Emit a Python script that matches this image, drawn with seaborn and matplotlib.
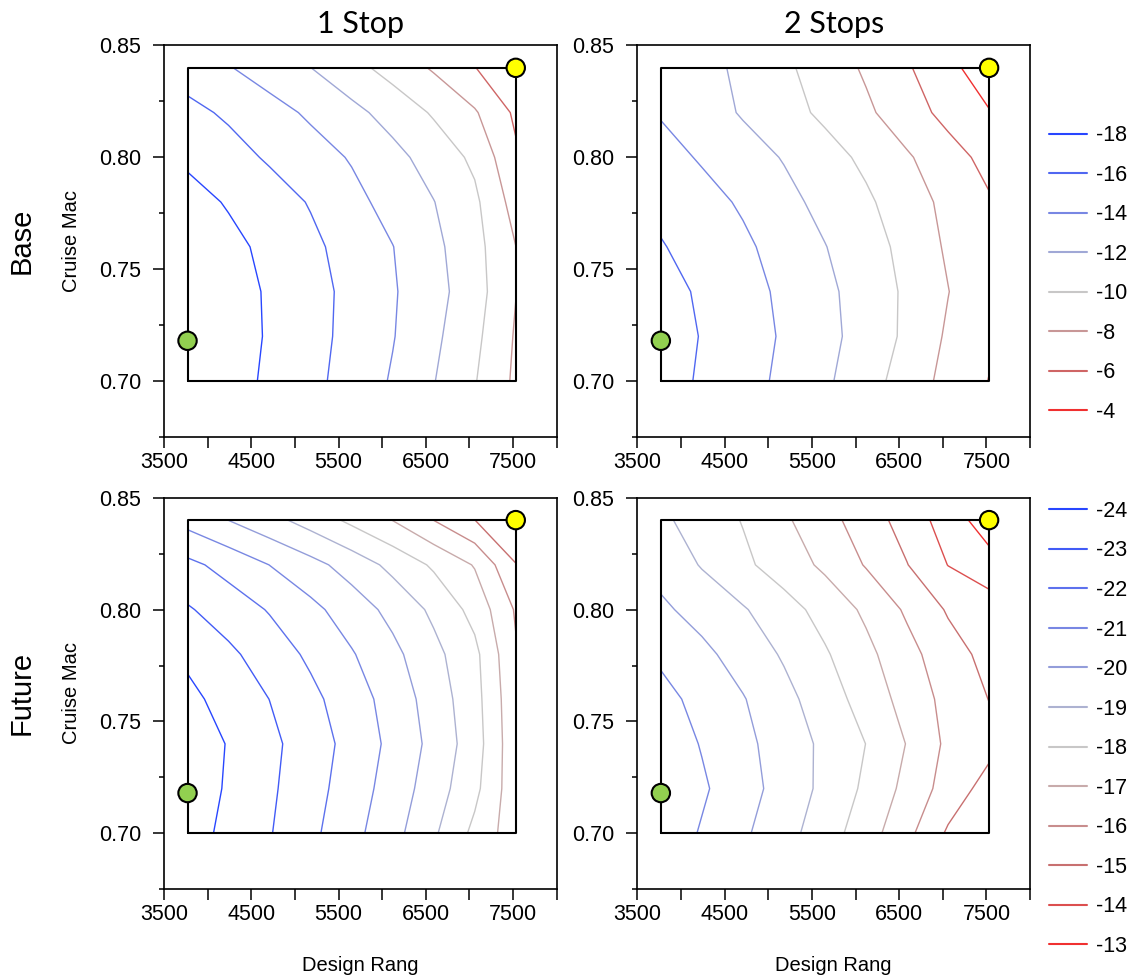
import numpy as np
import matplotlib
matplotlib.use("Agg")
import matplotlib.pyplot as plt
from matplotlib.colors import TwoSlopeNorm, LinearSegmentedColormap
from matplotlib.lines import Line2D
import seaborn as sns

# design grid (x) and cruise mach grid (y)
design_range = [3770, 4240, 4710, 5180, 5650, 6120, 6590, 7060, 7530]
cruise_mach = [0.70, 0.72, 0.74, 0.76, 0.78, 0.80, 0.82, 0.84]

# rows follow cruise_mach (0.70 -> 0.84), columns follow design_range
z_base_1stop = [
    [-19.90, -18.80, -17.66, -16.52, -15.24, -13.81, -12.08, -10.12, -7.64],
    [-20.10, -18.95, -17.80, -16.66, -15.43, -14.10, -12.42, -10.49, -7.81],
    [-19.96, -18.86, -17.77, -16.68, -15.50, -14.19, -12.70, -10.87, -8.05],
    [-19.62, -18.56, -17.49, -16.42, -15.26, -14.04, -12.49, -10.68, -8.02],
    [-18.78, -17.82, -16.86, -15.87, -14.58, -13.31, -12.05, -10.40, -7.20],
    [-17.62, -16.70, -15.77, -14.83, -13.84, -12.59, -11.19, -9.60, -6.30],
    [-16.50, -15.72, -14.73, -13.69, -12.55, -11.25, -9.78, -8.21, -5.66],
    [-15.17, -14.12, -13.07, -12.02, -10.66, -9.25, -7.77, -6.05, -4.60],
]
z_base_2stop = [
    [-16.81, -15.77, -14.72, -13.60, -12.32, -10.84, -9.10, -7.39, -5.95],
    [-16.96, -15.91, -14.87, -13.79, -12.58, -11.21, -9.62, -7.72, -6.30],
    [-16.74, -15.72, -14.71, -13.64, -12.45, -11.13, -9.68, -8.05, -6.40],
    [-16.13, -15.24, -14.35, -13.27, -12.06, -10.83, -9.43, -7.72, -6.40],
    [-15.50, -14.66, -13.76, -12.58, -11.43, -10.33, -8.93, -7.49, -6.20],
    [-14.70, -13.81, -12.85, -11.88, -10.77, -9.58, -8.23, -6.78, -5.40],
    [-13.85, -12.91, -11.82, -10.74, -9.60, -8.36, -6.88, -5.42, -4.10],
    [-13.88, -12.71, -11.54, -10.37, -9.09, -7.73, -6.23, -4.48, -3.00],
]
z_future_1stop = [
    [-24.43, -23.75, -23.06, -22.23, -21.31, -20.34, -19.15, -17.75, -16.40],
    [-24.61, -23.88, -23.16, -22.39, -21.51, -20.57, -19.50, -18.26, -16.35],
    [-24.64, -23.94, -23.24, -22.49, -21.67, -20.74, -19.71, -18.47, -16.30],
    [-24.26, -23.63, -22.99, -22.25, -21.47, -20.60, -19.55, -18.37, -16.25],
    [-23.80, -23.20, -22.52, -21.82, -21.08, -20.26, -19.28, -18.26, -16.10],
    [-23.10, -22.52, -21.93, -21.26, -20.52, -19.71, -18.80, -17.67, -15.90],
    [-22.25, -21.66, -20.99, -20.33, -19.58, -18.73, -17.85, -16.93, -15.05],
    [-20.66, -19.99, -19.33, -18.59, -17.78, -16.98, -15.99, -15.01, -13.80],
]
z_future_2stop = [
    [-21.65, -20.91, -20.16, -19.36, -18.47, -17.46, -16.27, -14.86, -14.20],
    [-21.87, -21.14, -20.40, -19.61, -18.75, -17.81, -16.71, -15.58, -14.60],
    [-21.62, -20.94, -20.26, -19.54, -18.79, -17.99, -16.96, -15.79, -15.30],
    [-21.32, -20.69, -20.06, -19.30, -18.48, -17.60, -16.63, -15.69, -14.98],
    [-20.82, -20.24, -19.59, -18.89, -18.11, -17.26, -16.33, -15.41, -14.70],
    [-20.18, -19.64, -19.09, -18.40, -17.64, -16.82, -15.85, -14.90, -14.50],
    [-19.66, -18.93, -18.21, -17.52, -16.81, -15.93, -15.03, -13.98, -13.40],
    [-19.19, -18.57, -17.95, -17.16, -16.35, -15.51, -14.58, -13.54, -12.45],
]

base_levels = [-18, -16, -14, -12, -10, -8, -6, -4]
future_levels = [-24, -23, -22, -21, -20, -19, -18, -17, -16, -15, -14, -13]

# reference points (lower-left and upper-right)
point_x = [3770, 7530]
point_y = [0.718, 0.84]
point_names = ["low", "high"]

col_titles = ["1 Stop", "2 Stops"]
row_titles = ["Base", "Future"]

x_ticks = [3500, 4000, 4500, 5000, 5500, 6000, 6500, 7000, 7500, 8000]
x_tick_labels = ["3500", "", "4500", "", "5500", "", "6500", "", "7500", ""]
y_ticks = [0.70, 0.75, 0.80, 0.85]
y_minor_ticks = [0.675, 0.725, 0.775, 0.825]

sns.set_style("ticks")
plt.rcParams["font.family"] = ["Liberation Sans", "DejaVu Sans"]
plt.rcParams.update({
    "axes.linewidth": 1.2,
    "axes.edgecolor": "black",
    "text.color": "black",
    "axes.labelcolor": "black",
    "xtick.color": "black",
    "ytick.color": "black",
})

cmap = LinearSegmentedColormap.from_list(
    "blue_grey_red",
    [(0.0, "#2846ff"), (0.5, "#c8c8c8"), (0.8, "#c87070"), (1.0, "#f03030")])

panels = [
    [(z_base_1stop, base_levels, -10), (z_base_2stop, base_levels, -10)],
    [(z_future_1stop, future_levels, -18), (z_future_2stop, future_levels, -18)],
]

fig = plt.figure(figsize=(11.37, 9.8), dpi=100)
lefts = [0.1442, 0.5605]
bottoms = [0.5541, 0.0926]
w, h = 0.3455, 0.3995
legend_tops = [0.8724, 0.4888]

for r in range(2):
    for c in range(2):
        z, levels, center = panels[r][c]
        norm = TwoSlopeNorm(vmin=levels[0], vcenter=center, vmax=levels[-1])
        ax = fig.add_axes([lefts[c], bottoms[r], w, h])

        ax.contour(design_range, cruise_mach, np.array(z), levels=levels,
                   cmap=cmap, norm=norm, linewidths=1.0)

        # outline of the sampled design space
        x0, x1 = min(design_range), max(design_range)
        y0, y1 = min(cruise_mach), max(cruise_mach)
        ax.plot([x0, x1, x1, x0, x0], [y0, y0, y1, y1, y0],
                color="black", lw=1.5, zorder=3)

        sns.scatterplot(x=point_x, y=point_y, hue=point_names,
                        palette=["#92d050", "#ffff00"], s=175,
                        edgecolor="black", linewidth=1.5, legend=False,
                        zorder=5, ax=ax)

        ax.set_xlim(3500, 8000)
        ax.set_ylim(0.675, 0.85)
        ax.set_xticks(x_ticks)
        ax.set_xticklabels(x_tick_labels)
        ax.set_yticks(y_ticks)
        ax.set_yticklabels([f"{v:.2f}" for v in y_ticks])
        ax.set_yticks(y_minor_ticks, minor=True)
        ax.tick_params(axis="x", which="major", direction="out", length=7.7,
                       width=1.1, labelsize=15.5, pad=3)
        ax.tick_params(axis="y", which="major", direction="out", length=8,
                       width=1.1, labelsize=15.5, pad=8.5)
        ax.tick_params(axis="y", which="minor", direction="out", length=3.6,
                       width=1.1)
        for s in ax.spines.values():
            s.set_visible(True)
            s.set_linewidth(1.2)

        if r == 0:
            ax.set_title(col_titles[c], fontsize=22, family=["Lato", "DejaVu Sans"], pad=9)
        if c == 0:
            ax.set_ylabel("Cruise Mac", fontsize=14.5, labelpad=13)
        if r == 1:
            ax.set_xlabel("Design Rang", fontsize=14.5, labelpad=22)

        if c == 1:
            handles = [Line2D([], [], color=cmap(norm(l)), lw=1.5) for l in levels]
            fig.legend(handles, [str(l) for l in levels], loc="upper left",
                       bbox_to_anchor=(1049 / 1137, legend_tops[r]),
                       frameon=False, fontsize=15.5, handlelength=1.75,
                       handletextpad=0.45, labelspacing=0.86, borderpad=0,
                       borderaxespad=0)

fig.text(22 / 1137, 1 - 241 / 980, row_titles[0], rotation=90, ha="center",
         va="center", fontsize=21)
fig.text(22 / 1137, 1 - 693 / 980, row_titles[1], rotation=90, ha="center",
         va="center", fontsize=21)

fig.savefig("out.png", dpi=100)
